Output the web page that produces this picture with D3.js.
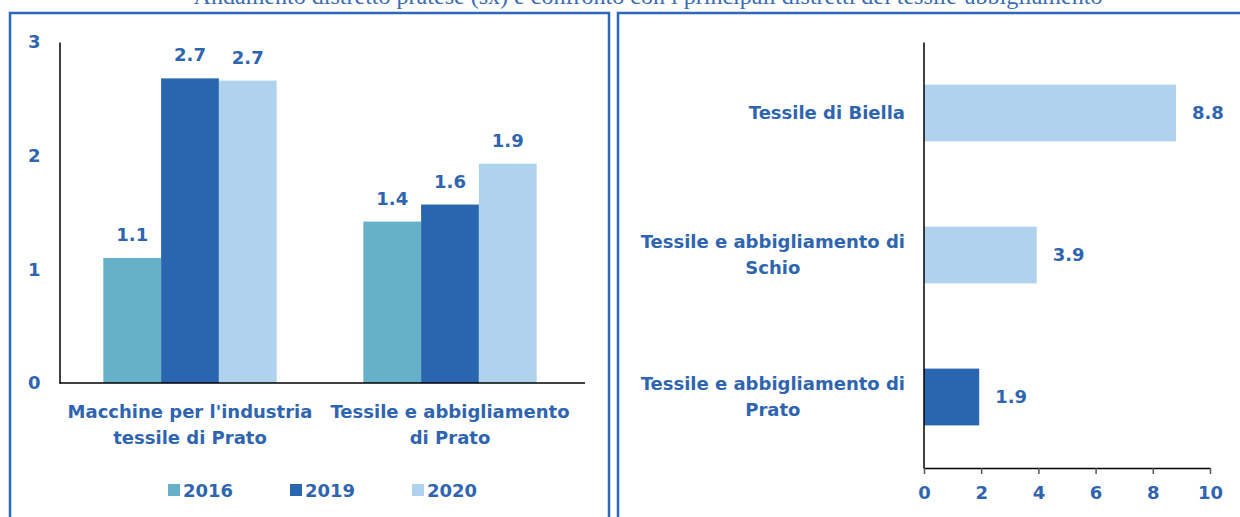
<!DOCTYPE html>
<html>
<head>
<meta charset="utf-8">
<script src="https://cdn.jsdelivr.net/npm/d3@7"></script>
<style>
  html, body { margin: 0; padding: 0; background: #fff; }
  svg { display: block; }
</style>
</head>
<body>
<svg id="chart" width="1240" height="517"></svg>
<script>
// ---- Data ----
const titleText = "Andamento distretto pratese (sx) e confronto con i principali distretti del tessile-abbigliamento";

const leftCategories = [["Macchine per l'industria", "tessile di Prato"], ["Tessile e abbigliamento", "di Prato"]];
const leftCategoryKeys = ["Macchine per l'industria tessile di Prato", "Tessile e abbigliamento di Prato"];
const years = ["2016", "2019", "2020"];
const values2016 = [1.1, 1.42];
const values2019 = [2.68, 1.57];
const values2020 = [2.66, 1.93];
const leftTicks = [0, 1, 2, 3];

const rightCategories = [["Tessile di Biella"], ["Tessile e abbigliamento di", "Schio"], ["Tessile e abbigliamento di", "Prato"]];
const rightCategoryKeys = ["Tessile di Biella", "Tessile e abbigliamento di Schio", "Tessile e abbigliamento di Prato"];
const rightValues = [8.81, 3.94, 1.93];
const rightColorKeys = ["2020", "2020", "2019"];
const rightTicks = [0, 2, 4, 6, 8, 10];

// ---- Styles ----
const colors = { "2016": "#67B0CA", "2019": "#2A66AF", "2020": "#AFD3EC" };
const textColor = "#2F65B0";
const borderColor = "#2F68B6";
const font = "'Century Gothic', 'DejaVu Sans', sans-serif";
const fs = 18;

const svg = d3.select("#chart");

// Title (partially cut at top, as in the source)
const title = svg.append("text")
  .attr("x", 648).attr("y", 4)
  .attr("text-anchor", "middle")
  .attr("font-family", "'Liberation Serif', 'Times New Roman', serif")
  .attr("font-size", 20)
  .attr("fill", "#3A6BB5")
  .text(titleText);
const tw = title.node().getComputedTextLength();
title.attr("font-size", 20 * 909 / tw);

// Panel borders
svg.append("rect").attr("x", 10).attr("y", 13).attr("width", 599).attr("height", 600)
  .attr("fill", "none").attr("stroke", borderColor).attr("stroke-width", 2.5);
svg.append("rect").attr("x", 618).attr("y", 13).attr("width", 700).attr("height", 600)
  .attr("fill", "none").attr("stroke", borderColor).attr("stroke-width", 2.5);

// ---------- Left chart ----------
const L = { left: 60, right: 585, top: 42, bottom: 383 };
const yL = d3.scaleLinear().domain([0, 3]).range([L.bottom, L.top]);
const x0 = d3.scaleBand().domain(leftCategoryKeys).range([L.left, L.right - 5]).paddingInner(0).paddingOuter(0);
const x1 = d3.scaleBand().domain(years).range([0, x0.bandwidth()]).paddingInner(0).paddingOuter(0.75);

const seriesValues = { "2016": values2016, "2019": values2019, "2020": values2020 };

const gL = svg.append("g");
leftCategoryKeys.forEach((cat, i) => {
  years.forEach(yr => {
    const v = seriesValues[yr][i];
    const bx = x0(cat) + x1(yr);
    gL.append("rect")
      .attr("x", bx).attr("y", yL(v))
      .attr("width", x1.bandwidth()).attr("height", yL(0) - yL(v))
      .attr("fill", colors[yr]);
    gL.append("text")
      .attr("x", bx + x1.bandwidth() / 2).attr("y", yL(v) - 17)
      .attr("text-anchor", "middle")
      .attr("font-family", font).attr("font-weight", 700).attr("font-size", fs)
      .attr("fill", textColor)
      .text(d3.format(".1f")(v));
  });
});

// Left y axis
const yAxisL = svg.append("g").attr("transform", `translate(${L.left - 0.5},0)`)
  .call(d3.axisLeft(yL).tickValues(leftTicks).tickFormat(d3.format("d")).tickSize(0).tickSizeOuter(0).tickPadding(19));
yAxisL.select(".domain").attr("stroke", "#000").attr("stroke-width", 1.5);
yAxisL.selectAll(".tick text").attr("font-family", font).attr("font-weight", 700).attr("font-size", fs).attr("fill", textColor);

// Left x axis baseline
svg.append("line")
  .attr("x1", L.left - 0.5).attr("x2", L.right)
  .attr("y1", yL(0)).attr("y2", yL(0))
  .attr("stroke", "#000").attr("stroke-width", 1.5);

// Left category labels
leftCategoryKeys.forEach((cat, i) => {
  const t = svg.append("text")
    .attr("font-family", font).attr("font-weight", 700).attr("font-size", fs)
    .attr("fill", textColor).attr("text-anchor", "middle");
  leftCategories[i].forEach((line, j) => {
    t.append("tspan").attr("x", x0(cat) + x0.bandwidth() / 2).attr("y", 418 + j * 26).text(line);
  });
});

// Legend
const legend = svg.append("g");
years.forEach((yr, i) => {
  const lx = 168 + i * 122;
  legend.append("rect").attr("x", lx).attr("y", 484).attr("width", 12).attr("height", 12).attr("fill", colors[yr]);
  legend.append("text").attr("x", lx + 15).attr("y", 497)
    .attr("font-family", font).attr("font-weight", 700).attr("font-size", fs)
    .attr("fill", textColor).text(yr);
});

// ---------- Right chart ----------
const R = { left: 924, right: 1210, top: 42, bottom: 468 };
const xR = d3.scaleLinear().domain([0, 10]).range([R.left, R.right]);
const yR = d3.scaleBand().domain(rightCategoryKeys).range([R.top, R.bottom]).paddingInner(0.6).paddingOuter(0.3);

const gR = svg.append("g");
rightCategoryKeys.forEach((cat, i) => {
  const v = rightValues[i];
  gR.append("rect")
    .attr("x", xR(0)).attr("y", yR(cat))
    .attr("width", xR(v) - xR(0)).attr("height", yR.bandwidth())
    .attr("fill", colors[rightColorKeys[i]]);
  gR.append("text")
    .attr("x", xR(v) + 16).attr("y", yR(cat) + yR.bandwidth() / 2 + 6)
    .attr("font-family", font).attr("font-weight", 700).attr("font-size", fs)
    .attr("fill", textColor).text(d3.format(".1f")(v));

  // Category label: block right-aligned, lines centered within block
  const lines = rightCategories[i];
  const cy = yR(cat) + yR.bandwidth() / 2;
  const lh = 26;
  const t = svg.append("text")
    .attr("font-family", font).attr("font-weight", 700).attr("font-size", fs)
    .attr("fill", textColor).attr("text-anchor", "middle");
  const spans = lines.map((line, j) =>
    t.append("tspan").attr("y", cy + 6 + (j - (lines.length - 1) / 2) * lh).text(line));
  const widths = spans.map(s => s.node().getComputedTextLength());
  const maxW = d3.max(widths);
  const centerX = 905 - maxW / 2;
  spans.forEach(s => s.attr("x", centerX));
});

// Right y axis line
const yAxisR = svg.append("g").attr("transform", `translate(${R.left - 0.5},0)`)
  .call(d3.axisLeft(yR).tickSize(0).tickSizeOuter(0).tickFormat(""));
yAxisR.select(".domain").attr("stroke", "#000").attr("stroke-width", 1.5);

// Right x axis
const xAxisR = svg.append("g").attr("transform", `translate(0,${R.bottom})`)
  .call(d3.axisBottom(xR).tickValues(rightTicks).tickFormat(d3.format("d")).tickSize(6).tickSizeOuter(0).tickPadding(12));
xAxisR.select(".domain").attr("stroke", "#000").attr("stroke-width", 1.5);
xAxisR.selectAll(".tick line").attr("stroke", "#555").attr("stroke-width", 1.5);
xAxisR.selectAll(".tick text").attr("font-family", font).attr("font-weight", 700).attr("font-size", fs).attr("fill", textColor);
</script>
</body>
</html>
